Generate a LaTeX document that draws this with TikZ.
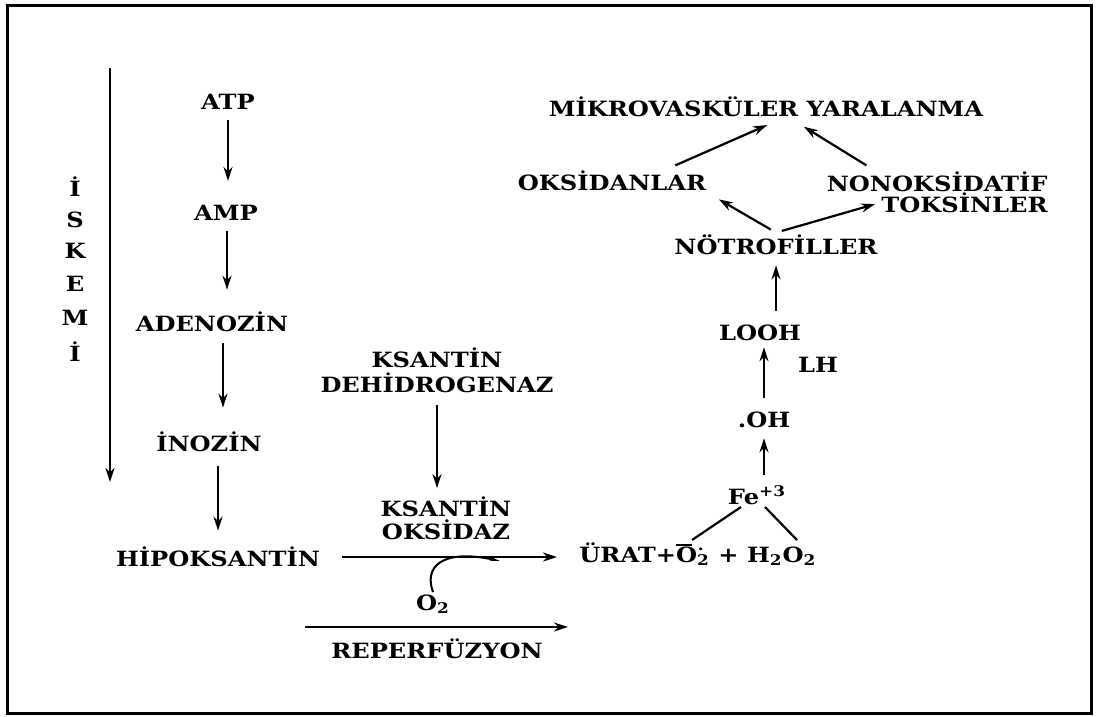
\documentclass[tikz,border=0pt]{standalone}
\usepackage{fontspec}
\usepackage{tikz}
\usetikzlibrary{arrows.meta}
\newfontfamily\dgfont{DejaVu Serif Bold}[FakeStretch=1.15]
\newcommand{\supox}{\rlap{\raisebox{1.5ex}{\rule{0.75em}{0.7pt}}}O\rlap{\textsuperscript{\kern0.05em·}}\textsubscript{2}}

\begin{document}
\begin{tikzpicture}[x=0.5pt, y=-0.5pt,
    lbl/.style={font=\dgfont\fontsize{10.5}{12}\selectfont, inner sep=1pt},
    arr/.style={-{Stealth[length=7pt,width=4.5pt]}, line width=1.1pt},
    thinarr/.style={-{Stealth[length=5pt,width=2pt]}, line width=1pt}]
  \useasboundingbox (0,0) rectangle (1097,717);
  % frame
  \draw[line width=1.5pt] (7,6) rectangle (1091,713);
  % iskemi
  \coordinate (isktop) at (110,68);
  \coordinate (iskbot) at (110,482);
  \draw[arr] (isktop) -- (iskbot);
  \foreach \l/\y [count=\i] in {İ/187, S/220, K/251, E/284, M/318, İ/352}
    {\node[lbl] (isk\i) at (75,\y) {\l};}
  % breakdown of ATP
  \node[lbl] (atp) at (228,102) {ATP};
  \node[lbl] (amp) at (226,213) {AMP};
  \node[lbl] (aden) at (212,322) {ADENOZİN};
  \node[lbl] (inoz) at (209,442) {İNOZİN};
  \node[lbl] (hipo) at (218,557) {HİPOKSANTİN};
  \foreach \a/\b/\x/\s/\e in {atp/amp/228/4pt/11pt, amp/aden/227/4pt/10pt,
      aden/inoz/223/4.5pt/11pt, inoz/hipo/218/6pt/7pt}
    {\draw[arr, shorten <=\s, shorten >=\e] (\a.south -| \x,0) -- (\b.north -| \x,0);}
  % enzyme
  \node[lbl, align=center] (ksdh) at (437,370) {KSANTİN\\[0.5pt]DEHİDROGENAZ};
  \node[lbl, align=center] (ksox) at (446,518) {KSANTİN\\[-0.5pt]OKSİDAZ};
  \draw[arr, shorten <=5pt, shorten >=3pt] (ksdh.south -| 437,0) -- (ksox.north -| 437,0);
  % reaction
  \node[lbl, anchor=base west] (urat) at (577,562) {ÜRAT+\supox{} + H\textsubscript{2}O\textsubscript{2}};
  \draw[arr, shorten <=10pt, shorten >=10pt] (hipo.east) -- (hipo.east -| urat.west);
  \node[lbl] (o2) at (433,604) {O\textsubscript{2}};
  \coordinate (o2end) at (500,561);
  \draw[thinarr] (o2.north) .. controls (424,568) and (440,548) .. (o2end);
  \node[lbl] (reper) at (437,649) {REPERFÜZYON};
  \coordinate (repL) at (305,627);
  \coordinate (repR) at (568,627);
  \draw[arr] (repL) -- (repR);
  % iron and radicals
  \node[lbl] (fe) at (757,495) {Fe\textsuperscript{+3}};
  \coordinate (feL) at (692,540);
  \coordinate (feR) at (797,540);
  \draw[line width=1.1pt] (feL) -- ([xshift=-8pt]fe.south);
  \draw[line width=1.1pt] (feR) -- ([xshift=4pt]fe.south);
  \node[lbl] (oh) at (764,420) {.OH};
  \node[lbl] (looh) at (760,333) {LOOH};
  \node[lbl] (lh) at (818,365) {LH};
  \node[lbl] (notr) at (776,245) {NÖTROFİLLER};
  \draw[arr, shorten <=4pt, shorten >=4pt] (fe.north -| oh.south) -- (oh.south);
  \draw[arr, shorten <=6pt, shorten >=2pt] (oh.north) -- (oh.north |- looh.south);
  \draw[arr, shorten <=6pt, shorten >=4pt] (looh.north -| notr.south) -- (notr.south);
  % injury
  \node[lbl] (oksd) at (612,181) {OKSİDANLAR};
  \node[lbl, anchor=east] (nonok) at (1050,182) {NONOKSİDATİF};
  \node[lbl, anchor=east] (toks) at (1050,203) {TOKSİNLER};
  \node[lbl] (mikro) at (766,107) {MİKROVASKÜLER YARALANMA};
  \draw[arr, shorten <=3pt, shorten >=6pt] (notr.north) -- (oksd.south east);
  \draw[arr, shorten <=3pt, shorten >=2pt] (notr.north) -- (toks.west);
  \draw[arr, shorten <=4pt, shorten >=7pt] ([xshift=28pt]oksd.north) -- ([xshift=7pt]mikro.south);
  \draw[arr, shorten <=4pt, shorten >=7pt] ([xshift=-32pt]nonok.north) -- ([xshift=13pt]mikro.south);
\end{tikzpicture}
\end{document}
